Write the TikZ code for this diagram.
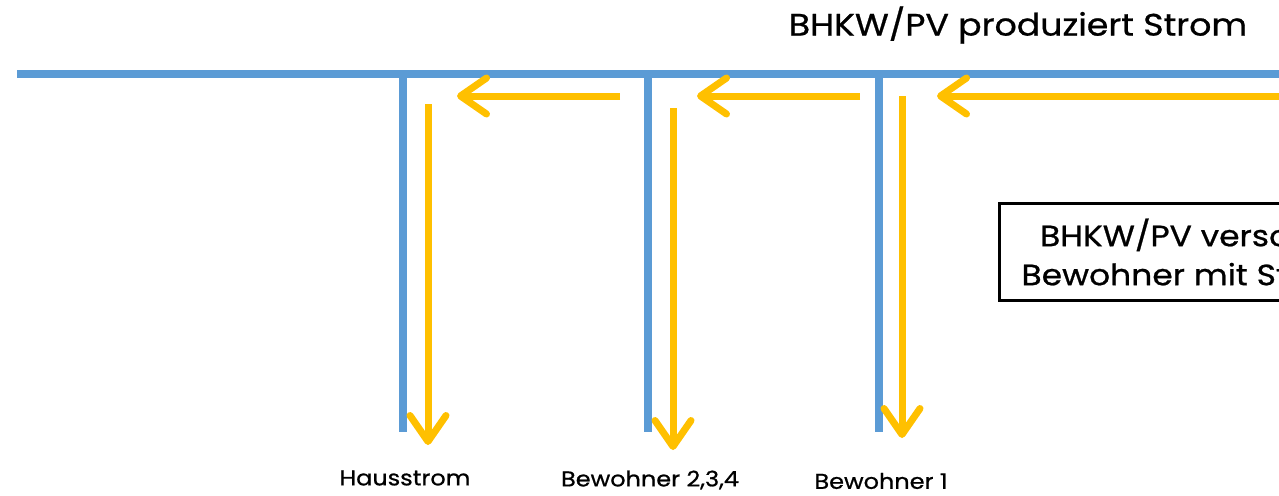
\documentclass[tikz,border=0pt]{standalone}
\usepackage{fontspec}
\setmainfont{Poppins}[FakeStretch=1.12,FakeBold=0.8]
\usetikzlibrary{arrows.meta}
\definecolor{netzblau}{HTML}{5B9BD5}
\definecolor{stromgelb}{HTML}{FFC000}
\tikzset{
  leitung/.style={netzblau, line width=4pt},
  fluss/.style={stromgelb, line width=3.5pt, -{Straight Barb[length=13pt,width=18pt,round]}},
  verbraucher/.style={font=\fontsize{10.7}{12}\selectfont},
  kasten/.style={draw, line width=1.5pt, align=center, anchor=west, inner xsep=11pt,
    minimum height=48.5pt, font=\fontsize{14.7}{19.5}\selectfont},
}

\begin{document}
\begin{tikzpicture}[x=0.5pt,y=-0.5pt]
\useasboundingbox (0,0) rectangle (1279,495);
\clip (0,0) rectangle (1279,495);
\node[font=\fontsize{15.5}{19}\selectfont] (titel) at (1018,25) {BHKW/PV produziert Strom};
% Stromschiene
\coordinate (bus-west) at (17,74);
\coordinate (bus-east) at (1300,74);
\draw[leitung] (bus-west) -- (bus-east);
% Abzweige mit Verbrauchern
\foreach \name/\xb/\xf/\yf/\ytip/\txt/\ylab in
  {haus/403/428/104/445/Hausstrom/478,
   bwa/648/673/108/450/{Bewohner 2,3,4}/480,
   bwb/879/902/96/438/{Bewohner 1}/481}
{
  \coordinate (\name-top) at (\xb,74);
  \coordinate (\name-bottom) at (\xb,432);
  \draw[leitung] (\name-top) -- (\name-bottom);
  \coordinate (\name-in) at (\xf,\yf);
  \coordinate (\name-out) at (\xf,\ytip);
  \draw[fluss] (\name-in) -- (\name-out);
  \node[verbraucher] (\name) at (\xb+2,\ylab) {\txt};
}
% Stromfluss entlang der Schiene
\coordinate (quelle) at (1300,96);
\coordinate (ziel-bwb) at (937,96);
\coordinate (ab-bwb) at (860,96);
\coordinate (ziel-bwa) at (697,96);
\coordinate (ab-bwa) at (620,96);
\coordinate (ziel-haus) at (457,96);
\draw[fluss] (quelle) -- (ziel-bwb);
\draw[fluss] (ab-bwb) -- (ziel-bwa);
\draw[fluss] (ab-bwa) -- (ziel-haus);
\node[kasten] (versorgung) at (998,252) {BHKW/PV versorgt\\Bewohner mit Strom};
\end{tikzpicture}
\end{document}
